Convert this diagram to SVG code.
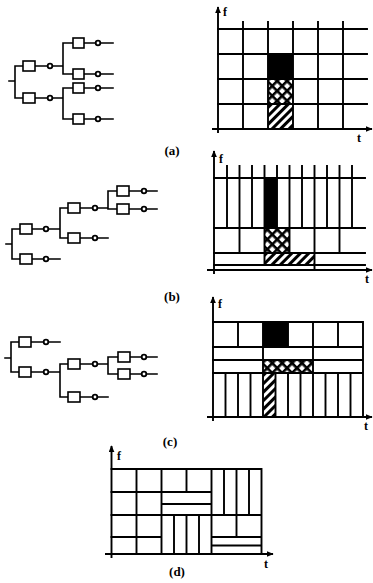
<svg xmlns="http://www.w3.org/2000/svg" width="373" height="583" viewBox="0 0 373 583">
<defs>
<marker id="arr" viewBox="0 0 10 10" refX="9" refY="5" markerWidth="7" markerHeight="6" orient="auto" markerUnits="userSpaceOnUse" preserveAspectRatio="none"><path d="M0,0 L10,5 L0,10 z" fill="#000"/></marker>
<pattern id="stripes" patternUnits="userSpaceOnUse" width="6" height="6" patternTransform="rotate(45)"><rect x="0" y="0" width="3" height="6" fill="#000"/></pattern>
<pattern id="cross" patternUnits="userSpaceOnUse" width="7" height="7" patternTransform="rotate(45)"><rect x="0" y="0" width="7" height="7" fill="#fff"/><rect x="0" y="0" width="2.6" height="7" fill="#000"/><rect x="0" y="0" width="7" height="2.6" fill="#000"/></pattern>
</defs>
<style>
.ln{fill:none;stroke:#000;stroke-width:1.6;stroke-linecap:square}
.gl{fill:none;stroke:#000;stroke-width:1.9;stroke-linecap:square}
.ax{fill:none;stroke:#000;stroke-width:1.9}
.box{fill:#fff;stroke:#000;stroke-width:1.6}
.dot{fill:#fff;stroke:#000;stroke-width:1.8}
.lbl{font-family:"Liberation Serif",serif;font-weight:bold;font-size:13px;fill:#000}
.ft{font-family:"Liberation Serif",serif;font-weight:bold;font-size:12px;fill:#000}
</style>
<rect width="373" height="583" fill="#fff"/>

<!-- Tree (a) -->
<g id="tree-a">
<g id="tree-a-connectors">
<path class="ln" d="M9,81H15M15,66V98M15,66H23M35,66H63M63,43V74M63,43H73M84,43H113M63,74H73M84,74H113M15,98H23M35,98H63M63,88V119M63,88H73M84,88H113M63,119H73M84,119H113"/>
</g>
<g id="a-b1"><rect class="box" x="23" y="61" width="12" height="10"/><circle class="dot" cx="50" cy="66" r="2.3"/></g>
<g id="a-b2"><rect class="box" x="23" y="93" width="12" height="10"/><circle class="dot" cx="50" cy="98" r="2.3"/></g>
<g id="a-b11"><rect class="box" x="73" y="38" width="11" height="10"/><circle class="dot" cx="98" cy="43" r="2.3"/></g>
<g id="a-b12"><rect class="box" x="73" y="69" width="11" height="10"/><circle class="dot" cx="98" cy="74" r="2.3"/></g>
<g id="a-b21"><rect class="box" x="73" y="83" width="11" height="10"/><circle class="dot" cx="98" cy="88" r="2.3"/></g>
<g id="a-b22"><rect class="box" x="73" y="114" width="11" height="10"/><circle class="dot" cx="98" cy="119" r="2.3"/></g>
</g>

<!-- Grid (a) -->
<g id="grid-a">
<rect x="268" y="54" width="25" height="25" fill="#000"/>
<rect x="268" y="79" width="25" height="25" fill="url(#cross)"/>
<rect x="268" y="104" width="25" height="25" fill="url(#stripes)"/>
<path class="gl" d="M218,29H367M218,54H367M218,79H367M218,104H367M243,22V129M268,22V129M293,22V129M318,22V129M343,22V129"/>
<path class="ax" d="M218,133V7" marker-end="url(#arr)"/>
<path class="ax" d="M212,129H372" marker-end="url(#arr)"/>
<text class="ft" x="223" y="16">f</text>
<text class="ft" x="357" y="142">t</text>
</g>
<text class="lbl" x="172" y="155" text-anchor="middle">(a)</text>

<!-- Tree (b) -->
<g id="tree-b">
<g id="tree-b-connectors">
<path class="ln" d="M6,244H12M12,229V259M12,229H20M32,229H60M60,208V238M60,208H68M80,208H108M108,191V209M108,191H117M129,191H157M108,209H117M129,209H157M60,238H68M80,238H108M12,259H20M32,259H60"/>
</g>
<g id="b-b1"><rect class="box" x="20" y="224" width="12" height="10"/><circle class="dot" cx="46" cy="229" r="2.3"/></g>
<g id="b-b2"><rect class="box" x="20" y="254" width="12" height="10"/><circle class="dot" cx="46" cy="259" r="2.3"/></g>
<g id="b-b11"><rect class="box" x="68" y="203" width="12" height="10"/><circle class="dot" cx="95" cy="208" r="2.3"/></g>
<g id="b-b12"><rect class="box" x="68" y="233" width="12" height="10"/><circle class="dot" cx="95" cy="238" r="2.3"/></g>
<g id="b-b111"><rect class="box" x="117" y="186" width="12" height="10"/><circle class="dot" cx="144" cy="191" r="2.3"/></g>
<g id="b-b112"><rect class="box" x="117" y="204" width="12" height="10"/><circle class="dot" cx="144" cy="209" r="2.3"/></g>
</g>

<!-- Grid (b) -->
<g id="grid-b">
<rect x="264.5" y="178" width="12.5" height="50" fill="#000"/>
<rect x="264.5" y="228" width="25" height="25" fill="url(#cross)"/>
<rect x="264.5" y="253" width="50" height="12" fill="url(#stripes)"/>
<path class="gl" d="M214,178H365M214,228H365M214,253H365M214,265H365M227,166V228M239.5,166V253M252,166V228M264.5,166V265M277,166V228M289.5,166V253M302,166V228M314.5,166V270M327,166V228M339.5,166V253M352,166V228"/>
<path class="ax" d="M214,274V151" marker-end="url(#arr)"/>
<path class="ax" d="M207,270H372" marker-end="url(#arr)"/>
<text class="ft" x="219" y="163">f</text>
<text class="ft" x="365" y="283">t</text>
</g>
<text class="lbl" x="172" y="301" text-anchor="middle">(b)</text>

<!-- Tree (c) -->
<g id="tree-c">
<g id="tree-c-connectors">
<path class="ln" d="M5,358H11M11,342V372M11,342H19M31,342H60M11,372H19M31,372H60M60,364V397M60,364H68M80,364H108M108,357V374M108,357H118M130,357H157M108,374H118M130,374H157M60,397H68M80,397H108"/>
</g>
<g id="c-b1"><rect class="box" x="19" y="337" width="12" height="10"/><circle class="dot" cx="46" cy="342" r="2.3"/></g>
<g id="c-b2"><rect class="box" x="19" y="367" width="12" height="10"/><circle class="dot" cx="46" cy="372" r="2.3"/></g>
<g id="c-b21"><rect class="box" x="68" y="359" width="12" height="10"/><circle class="dot" cx="95" cy="364" r="2.3"/></g>
<g id="c-b22"><rect class="box" x="68" y="392" width="12" height="10"/><circle class="dot" cx="95" cy="397" r="2.3"/></g>
<g id="c-b211"><rect class="box" x="118" y="352" width="12" height="10"/><circle class="dot" cx="144" cy="357" r="2.3"/></g>
<g id="c-b212"><rect class="box" x="118" y="369" width="12" height="10"/><circle class="dot" cx="144" cy="374" r="2.3"/></g>
</g>

<!-- Grid (c) -->
<g id="grid-c">
<rect x="263" y="322" width="25" height="25" fill="#000"/>
<rect x="263" y="360" width="50" height="13" fill="url(#cross)"/>
<rect x="263" y="373" width="12.5" height="44" fill="url(#stripes)"/>
<path class="gl" d="M213,322H363V417M213,347H363M213,360H363M213,373H363M263,322V417M313,322V417M238,322V347M288,322V347M338,322V347M225.5,373V417M238,373V417M250.5,373V417M275.5,373V417M288,373V417M300.5,373V417M325.5,373V417M338,373V417M350.5,373V417"/>
<path class="ax" d="M213,421V297" marker-end="url(#arr)"/>
<path class="ax" d="M207,417H372" marker-end="url(#arr)"/>
<text class="ft" x="218" y="308">f</text>
<text class="ft" x="364" y="430">t</text>
</g>
<text class="lbl" x="170" y="446" text-anchor="middle">(c)</text>

<!-- Grid (d) -->
<g id="grid-d">
<path class="gl" d="M111.5,469H261.5V554M136.5,469V554M161.5,469V554M211.5,469V554M111.5,492H211.5M161.5,504H211.5M111.5,515H261.5M111.5,537H161.5M186.5,469V492M174,515V554M186.5,515V554M199,515V554M224,469V515M236.5,469V537M249,469V515M211.5,537H261.5M211.5,545.5H261.5"/>
<path class="ax" d="M111.5,558V446" marker-end="url(#arr)"/>
<path class="ax" d="M105,554H273" marker-end="url(#arr)"/>
<text class="ft" x="117" y="460">f</text>
<text class="ft" x="264" y="568">t</text>
</g>
<text class="lbl" x="177" y="576" text-anchor="middle">(d)</text>
</svg>
